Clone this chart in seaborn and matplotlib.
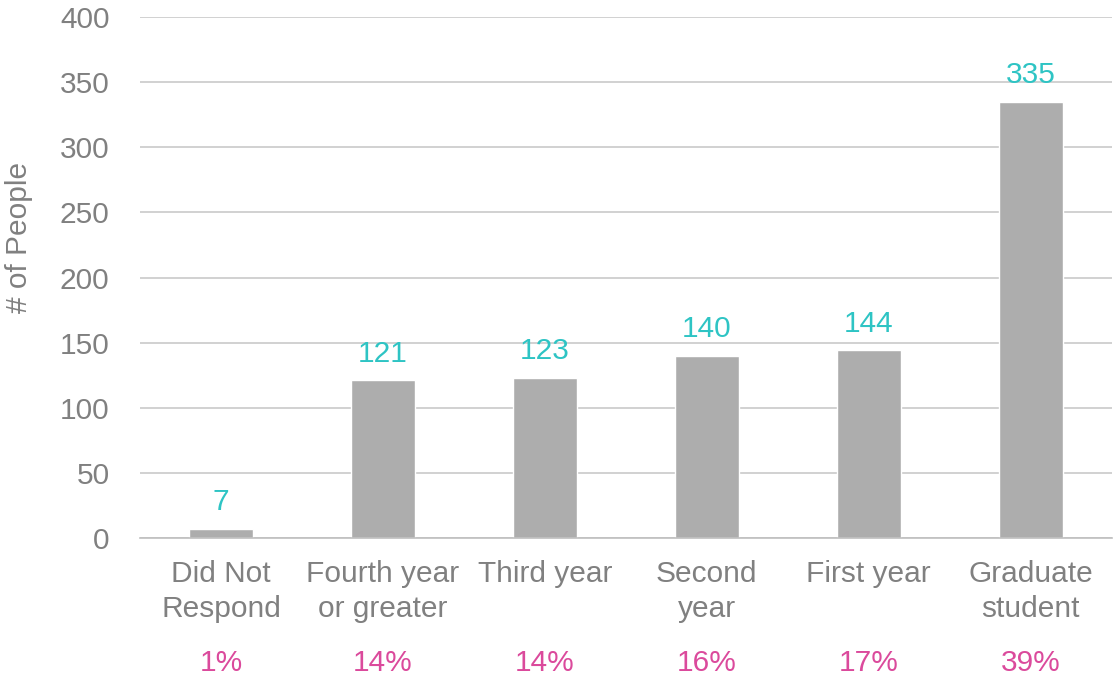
import matplotlib
matplotlib.use("Agg")
import matplotlib.pyplot as plt
import matplotlib.transforms as mtransforms
import seaborn as sns
import pandas as pd

# data
categories = ["Did Not\nRespond", "Fourth year\nor greater", "Third year",
              "Second\nyear", "First year", "Graduate\nstudent"]
counts = [7, 121, 123, 140, 144, 335]
percents = ["1%", "14%", "14%", "16%", "17%", "39%"]

bar_color = "#ADADAD"
teal = "#2EC4C4"
magenta = "#DB4A9C"
text_gray = "#808080"

sns.set_style("white")
plt.rcParams["font.family"] = ["Liberation Sans", "DejaVu Sans"]

df = pd.DataFrame({"category": categories, "count": counts})

fig = plt.figure(figsize=(11.15, 6.77), dpi=100)
ax = fig.add_axes([0.1256, 0.2053, 0.8714, 0.7696])

sns.barplot(data=df, x="category", y="count", color=bar_color,
            width=0.395, saturation=1, ax=ax)

ax.set_ylim(0, 400)
ax.set_xlim(-0.5, 5.5)
ax.set_yticks(range(0, 401, 50))
ax.yaxis.grid(True, color="#C9C9C9", linewidth=1.2)
ax.set_axisbelow(True)
for s in ["left", "right", "top"]:
    ax.spines[s].set_visible(False)
ax.spines["bottom"].set_color("#BFBFBF")
ax.spines["bottom"].set_linewidth(1.2)

fs = 21.5
ax.tick_params(axis="both", length=0, labelsize=fs, labelcolor=text_gray)
ax.tick_params(axis="x", pad=16)
ax.tick_params(axis="y", pad=22)
for lbl in ax.get_xticklabels():
    lbl.set_linespacing(1.3)

ax.set_xlabel("")
ax.set_ylabel("# of People", fontsize=fs, color=text_gray)
ax.yaxis.set_label_coords(-0.11, 0.576)

# value labels above bars
for i, v in enumerate(counts):
    ax.annotate(str(v), (i, v), xytext=(0, 9), textcoords="offset points",
                ha="center", va="bottom", fontsize=fs, color=teal)

# percentage row below the category labels
trans = mtransforms.blended_transform_factory(ax.transData, ax.transAxes)
for i, p in enumerate(percents):
    ax.text(i, -0.24, p, transform=trans, ha="center", va="center",
            fontsize=fs, color=magenta)

fig.savefig("out.png", dpi=100)
